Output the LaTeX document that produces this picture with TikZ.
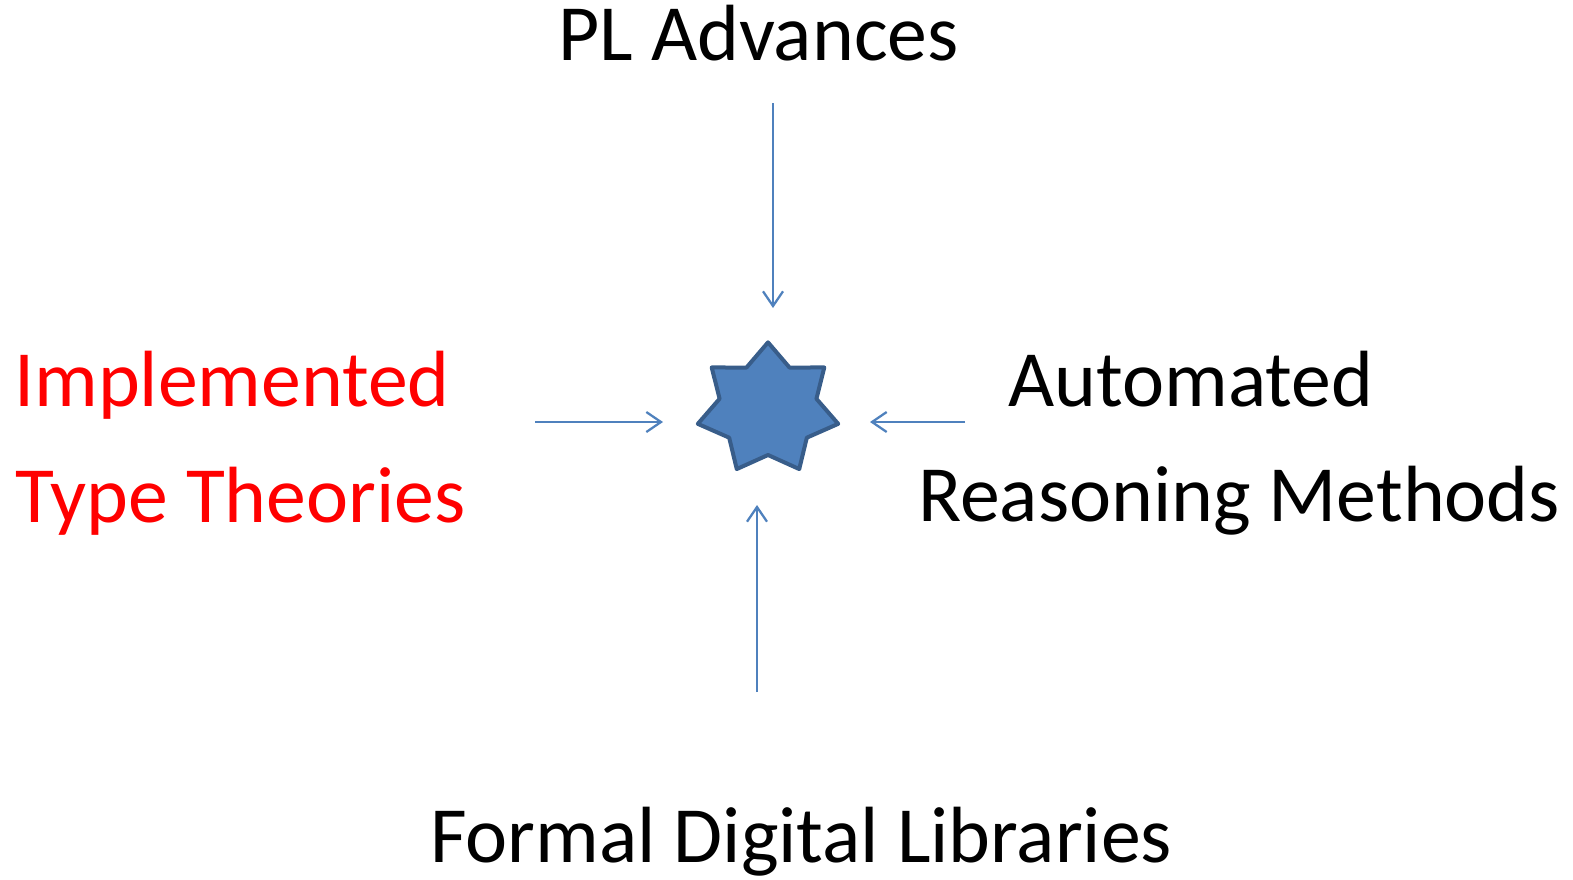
\documentclass[tikz,border=0pt]{standalone}
\usepackage{fontspec}
\setmainfont{Carlito}
\usepackage{tikz}
\usetikzlibrary{shapes.geometric, arrows.meta}
\definecolor{accent}{RGB}{79,129,189}
\definecolor{accentdark}{RGB}{56,93,138}
\tikzset{
	label text/.style={anchor=base west, inner sep=0pt, font=\fontsize{59.8}{87}\selectfont},
	flow/.style={draw=accent, line width=1.7pt, -{Straight Barb[length=11pt,width=15pt,line width=1.7pt]}},
	hub/.style={star, star points=7, star point ratio=1.45, minimum size=100pt, inner sep=0pt,
		fill=accent, draw=accentdark, line width=3pt, line join=round}
}

\begin{document}
\begin{tikzpicture}[x=0.75pt,y=-0.75pt]
\useasboundingbox (0,0) rectangle (1573,879);

\node[hub, xscale=1.08, transform shape] (core) at (768,409) {};

\node[label text] (pl) at (558,60) {PL Advances};
\node[label text, text=red] (impl) at (14,406) {Implemented};
\node[label text, text=red] (type) at (15,522) {Type Theories};
\node[label text] (auto) at (1008,406) {Automated};
\node[label text] (reas) at (918,521) {Reasoning Methods};
\node[label text] (fdl) at (430,862) {Formal Digital Libraries};

\coordinate (pltail) at (773,103);  \coordinate (plhead) at (773,308);
\coordinate (ttail) at (535,422);   \coordinate (thead) at (663,422);
\coordinate (atail) at (965,422);   \coordinate (ahead) at (870,422);
\coordinate (ftail) at (757,692);   \coordinate (fhead) at (757,505);

\draw[flow] (pltail) -- (plhead);
\draw[flow] (ttail) -- (thead);
\draw[flow] (atail) -- (ahead);
\draw[flow] (ftail) -- (fhead);
\end{tikzpicture}
\end{document}
